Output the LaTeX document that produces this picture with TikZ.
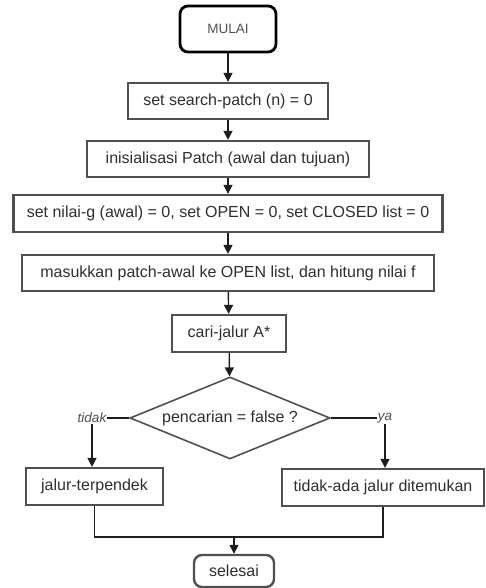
\documentclass[tikz,border=0pt]{standalone}
\usepackage{fontspec}
\setmainfont{Liberation Sans}
\usetikzlibrary{shapes.geometric,arrows.meta}
\definecolor{teks}{HTML}{2E2E2E}
\definecolor{tepi}{HTML}{505050}
\definecolor{gelap}{HTML}{1E1E1E}

\begin{document}
\begin{tikzpicture}[x=1pt,y=1pt,
    proses/.style={draw=tepi, line width=2.2pt, text=teks, inner sep=0pt,
        minimum height=36pt, font=\fontsize{16}{19}\selectfont},
    terminal/.style={proses, rounded corners=8pt},
    keputusan/.style={diamond, draw=tepi, line width=1.6pt, text=teks, inner sep=0pt,
        aspect=2.44, minimum width=200pt, minimum height=82pt, font=\fontsize{16}{19}\selectfont},
    cabang/.style={text=tepi, inner sep=1pt, font=\fontsize{13.5}{15}\selectfont\itshape},
    hubung/.style={draw=gelap, line width=1.4pt},
    panah/.style={hubung, -{Triangle[length=9pt,width=9pt]}}]
    \useasboundingbox (0,0) rectangle (485,588);

    % 开始
    \node[terminal, draw=black, line width=2.8pt, minimum width=96pt, minimum height=46pt,
        text=tepi, font=\fontsize{13.5}{16}\selectfont] (mulai) at (228,559) {MULAI};

    % 处理步骤
    \node[proses, minimum width=200pt] (p1) at (228,487) {set search-patch (n) = 0};
    \node[proses, minimum width=282pt] (p2) at (228,429) {inisialisasi Patch (awal dan tujuan)};
    \node[proses, minimum width=429pt, minimum height=37pt] (p3) at (228,374.5)
        {set nilai-g (awal) = 0, set OPEN = 0, set CLOSED list = 0};
    \node[proses, minimum width=412pt] (p4) at (228,315)
        {masukkan patch-awal ke OPEN list, dan hitung nilai f};
    \node[proses, minimum width=114pt, minimum height=37pt] (p5) at (229,254.5) {cari-jalur A*};

    % 判断
    \node[keputusan] (cek) at (230,170) {pencarian = false ?};
    \node[cabang] (tidak) at (92,170) {tidak};
    \node[cabang] (ya) at (385,170) {ya};

    % 结果
    \node[proses, minimum width=137pt, minimum height=37pt] (kiri) at (94.5,101.5) {jalur-terpendek};
    \node[proses, minimum width=202pt, minimum height=37pt] (kanan) at (383,100.5) {tidak-ada jalur ditemukan};

    % 结束
    \node[terminal, line width=2.4pt, minimum width=80pt, minimum height=32pt] (selesai) at (234,17) {selesai};
    \coordinate (gabung) at (234,51);

    % 箭头
    \draw[panah] (mulai) -- (p1);
    \draw[panah] (p1) -- (p2);
    \draw[panah] (p2) -- (p3);
    \draw[panah] (p3) -- (p4);
    \draw[panah] (p4) -- (p5);
    \draw[panah] (p5) -- (cek);
    \draw[hubung] (cek.west) -- (tidak.east);
    \draw[hubung] (cek.east) -- (ya.west);
    \draw[panah] (tidak.south) -- (tidak.south |- kiri.north);
    \draw[panah] (ya.south) -- (ya.south |- kanan.north);
    \draw[hubung] (kiri.south) |- (gabung) -| (kanan.south);
    \draw[panah] (gabung) -- (selesai);
\end{tikzpicture}
\end{document}
